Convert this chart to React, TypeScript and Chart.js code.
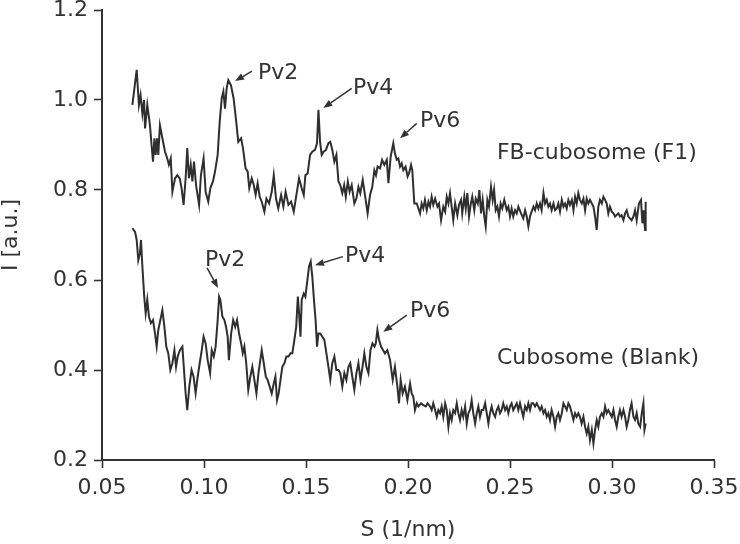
import React, { useEffect, useRef } from "react";
import { Chart, registerables } from "chart.js";

Chart.register(...registerables);

const FONT = "'DejaVu Sans', Verdana, sans-serif";
const INK = "#333333";

// axis ticks
const xTicks = [0.05, 0.1, 0.15, 0.2, 0.25, 0.3, 0.35];
const yTicks = [0.2, 0.4, 0.6, 0.8, 1.0, 1.2];

// FB-cubosome (F1) : S (1/nm) and I (a.u.)
const fbS = [
  0.0649, 0.067, 0.0681, 0.0689, 0.0698, 0.0706, 0.0711, 0.0722, 0.0735, 0.0743,
  0.075, 0.0757, 0.0763, 0.077, 0.0776, 0.0784, 0.0796, 0.0809, 0.082, 0.0828,
  0.0837, 0.0845, 0.0858, 0.0869, 0.0881, 0.089, 0.09, 0.091, 0.0918, 0.0926,
  0.0935, 0.0943, 0.0951, 0.0961, 0.0976, 0.0985, 0.0998, 0.1008, 0.1021, 0.1031,
  0.1044, 0.1054, 0.1067, 0.1077, 0.1087, 0.1095, 0.1103, 0.1111, 0.1119, 0.1132,
  0.1145, 0.1158, 0.1168, 0.1182, 0.1191, 0.1204, 0.1214, 0.1222, 0.1234, 0.1244,
  0.1253, 0.1263, 0.1273, 0.1283, 0.1296, 0.1306, 0.1319, 0.1332, 0.1342, 0.1353,
  0.1364, 0.1378, 0.1389, 0.14, 0.1414, 0.1427, 0.144, 0.1453, 0.1466, 0.1479,
  0.1489, 0.1497, 0.1508, 0.152, 0.1531, 0.1544, 0.1554, 0.1561, 0.1569, 0.1577,
  0.1586, 0.1598, 0.161, 0.1619, 0.1629, 0.1639, 0.1649, 0.1659, 0.1668, 0.1678,
  0.1687, 0.1695, 0.1705, 0.1714, 0.1724, 0.1737, 0.1747, 0.1757, 0.1766, 0.1778,
  0.1789, 0.1802, 0.1814, 0.1825, 0.1835, 0.1843, 0.1851, 0.1863, 0.1873, 0.1884,
  0.1896, 0.1904, 0.1915, 0.1928, 0.1936, 0.1945, 0.1953, 0.1961, 0.1969, 0.1977,
  0.1988, 0.1998, 0.2005, 0.2015, 0.2021, 0.2031, 0.2043, 0.2051, 0.2059, 0.2067,
  0.2075, 0.2083, 0.2092, 0.21, 0.2108, 0.2116, 0.2124, 0.2133, 0.2144, 0.2152,
  0.2162, 0.2173, 0.2182, 0.219, 0.2198, 0.2206, 0.2214, 0.2222, 0.2231, 0.2242,
  0.225, 0.226, 0.2266, 0.2276, 0.2283, 0.2291, 0.2299, 0.2307, 0.2315, 0.2325,
  0.2332, 0.2342, 0.235, 0.2358, 0.2366, 0.2374, 0.2381, 0.2389, 0.2397, 0.2407,
  0.2415, 0.2422, 0.243, 0.2438, 0.2446, 0.2454, 0.2462, 0.2472, 0.2484, 0.2492,
  0.25, 0.2508, 0.2516, 0.2525, 0.2533, 0.2541, 0.2554, 0.2565, 0.2574, 0.2582,
  0.259, 0.2598, 0.2606, 0.2615, 0.2623, 0.2631, 0.2639, 0.2647, 0.2655, 0.2664,
  0.2672, 0.268, 0.2688, 0.2696, 0.2704, 0.2713, 0.2721, 0.2729, 0.2737, 0.2745,
  0.2754, 0.2762, 0.277, 0.2778, 0.2786, 0.2794, 0.2803, 0.2811, 0.2819, 0.2827,
  0.2835, 0.2843, 0.2852, 0.286, 0.2868, 0.2876, 0.2884, 0.2892, 0.2901, 0.2909,
  0.2917, 0.2925, 0.2933, 0.2941, 0.295, 0.2958, 0.2966, 0.2974, 0.2982, 0.299,
  0.2999, 0.3007, 0.3015, 0.3031, 0.3039, 0.3047, 0.3056, 0.3064, 0.3072, 0.308,
  0.3096, 0.3105, 0.3113, 0.3121, 0.3132, 0.3142, 0.3149, 0.3155, 0.3162, 0.3165,
];
const fbI = [
  0.989, 1.067, 0.989, 1.011, 0.97, 1.0, 0.937, 0.989, 0.944, 0.9,
  0.863, 0.915, 0.878, 0.915, 0.878, 0.944, 0.915, 0.885, 0.87, 0.856,
  0.87, 0.796, 0.826, 0.833, 0.826, 0.804, 0.767, 0.826, 0.893, 0.826,
  0.856, 0.819, 0.863, 0.811, 0.767, 0.833, 0.87, 0.796, 0.774, 0.804,
  0.819, 0.841, 0.878, 0.952, 1.004, 1.019, 0.981, 1.026, 1.044, 1.033,
  1.004, 0.952, 0.907, 0.915, 0.893, 0.848, 0.841, 0.804, 0.826, 0.811,
  0.789, 0.815, 0.785, 0.774, 0.752, 0.781, 0.77, 0.796, 0.833, 0.781,
  0.759, 0.789, 0.763, 0.796, 0.767, 0.774, 0.752, 0.789, 0.826, 0.804,
  0.789, 0.833, 0.837, 0.878, 0.885, 0.889, 0.904, 0.978, 0.907, 0.878,
  0.885, 0.889, 0.904, 0.907, 0.889, 0.863, 0.878, 0.819, 0.811, 0.793,
  0.811, 0.785, 0.819, 0.796, 0.811, 0.77, 0.781, 0.807, 0.793, 0.822,
  0.789, 0.748, 0.789, 0.807, 0.844, 0.833, 0.852, 0.848, 0.867, 0.856,
  0.867, 0.815, 0.874, 0.904, 0.881, 0.867, 0.87, 0.852, 0.859, 0.844,
  0.852, 0.83, 0.837, 0.856, 0.844, 0.77, 0.77, 0.759, 0.748, 0.77,
  0.759, 0.778, 0.755, 0.774, 0.763, 0.785, 0.767, 0.781, 0.763, 0.77,
  0.733, 0.763, 0.752, 0.785, 0.77, 0.793, 0.763, 0.733, 0.77, 0.744,
  0.767, 0.778, 0.748, 0.785, 0.759, 0.793, 0.741, 0.767, 0.785, 0.755,
  0.781, 0.77, 0.8, 0.748, 0.778, 0.741, 0.719, 0.778, 0.763, 0.807,
  0.778, 0.8, 0.755, 0.763, 0.741, 0.77, 0.759, 0.778, 0.755, 0.763,
  0.741, 0.759, 0.741, 0.755, 0.748, 0.763, 0.748, 0.737, 0.755, 0.741,
  0.719, 0.741, 0.752, 0.763, 0.755, 0.77, 0.759, 0.77, 0.755, 0.793,
  0.77, 0.778, 0.763, 0.77, 0.755, 0.77, 0.755, 0.759, 0.77, 0.752,
  0.778, 0.763, 0.77, 0.759, 0.778, 0.767, 0.778, 0.755, 0.785, 0.77,
  0.793, 0.778, 0.77, 0.781, 0.755, 0.781, 0.77, 0.778, 0.77, 0.763,
  0.741, 0.711, 0.763, 0.778, 0.77, 0.785, 0.778, 0.77, 0.748, 0.763,
  0.752, 0.748, 0.741, 0.748, 0.741, 0.744, 0.733, 0.748, 0.755, 0.741,
  0.733, 0.741, 0.755, 0.733, 0.77, 0.778, 0.726, 0.755, 0.711, 0.774,
];

// Cubosome (Blank)
const blankS = [
  0.0649, 0.0662, 0.067, 0.0678, 0.0686, 0.0691, 0.0698, 0.0707, 0.0714, 0.0722,
  0.073, 0.074, 0.075, 0.076, 0.0768, 0.0776, 0.0786, 0.0796, 0.0806, 0.0815,
  0.0825, 0.0835, 0.0845, 0.0855, 0.0863, 0.0871, 0.0882, 0.0894, 0.0902, 0.091,
  0.0918, 0.0928, 0.0939, 0.0949, 0.0959, 0.0969, 0.0979, 0.0989, 0.0998, 0.1008,
  0.1018, 0.103, 0.1038, 0.1048, 0.1057, 0.1067, 0.1074, 0.108, 0.109, 0.11,
  0.1108, 0.1116, 0.1122, 0.1133, 0.1143, 0.1153, 0.1162, 0.1172, 0.1182, 0.119,
  0.1198, 0.1207, 0.1217, 0.1227, 0.1237, 0.1247, 0.1257, 0.1267, 0.1276, 0.1283,
  0.1293, 0.1303, 0.1312, 0.1322, 0.1332, 0.1342, 0.135, 0.1358, 0.1366, 0.1375,
  0.1384, 0.1394, 0.1404, 0.1414, 0.1424, 0.1433, 0.1443, 0.1452, 0.146, 0.1466,
  0.1473, 0.1479, 0.1489, 0.1497, 0.1505, 0.1515, 0.1523, 0.1531, 0.1539, 0.1547,
  0.1554, 0.1561, 0.157, 0.158, 0.159, 0.16, 0.161, 0.1619, 0.1629, 0.1639,
  0.1649, 0.1659, 0.1668, 0.1678, 0.1688, 0.1698, 0.1708, 0.1717, 0.1727, 0.1737,
  0.1747, 0.1757, 0.1767, 0.1777, 0.1786, 0.1796, 0.1806, 0.1816, 0.1826, 0.1836,
  0.1842, 0.185, 0.1858, 0.1868, 0.1878, 0.1887, 0.1899, 0.1912, 0.1925, 0.1936,
  0.1948, 0.1956, 0.1964, 0.1974, 0.1985, 0.1997, 0.201, 0.2018, 0.2026, 0.2034,
  0.2043, 0.2051, 0.2064, 0.2075, 0.2087, 0.2096, 0.2108, 0.2116, 0.2124, 0.2133,
  0.2141, 0.2149, 0.2157, 0.2165, 0.2173, 0.2182, 0.219, 0.2198, 0.2206, 0.2214,
  0.2222, 0.2231, 0.2239, 0.2247, 0.2255, 0.2263, 0.2271, 0.228, 0.2288, 0.2296,
  0.2304, 0.2312, 0.232, 0.2329, 0.2337, 0.2345, 0.2353, 0.2361, 0.2369, 0.2378,
  0.2386, 0.2394, 0.2402, 0.241, 0.2418, 0.2427, 0.2435, 0.2443, 0.2451, 0.2459,
  0.2467, 0.2476, 0.2484, 0.2492, 0.25, 0.2508, 0.2516, 0.2525, 0.2533, 0.2541,
  0.2549, 0.2557, 0.2565, 0.2574, 0.2582, 0.259, 0.2598, 0.2606, 0.2614, 0.2623,
  0.2631, 0.2639, 0.2647, 0.2655, 0.2664, 0.2672, 0.268, 0.2688, 0.2696, 0.2704,
  0.2713, 0.2721, 0.2729, 0.2737, 0.2745, 0.2754, 0.2762, 0.277, 0.2778, 0.2786,
  0.2794, 0.2803, 0.2811, 0.2819, 0.2827, 0.2835, 0.2843, 0.2851, 0.286, 0.2868,
  0.2876, 0.2884, 0.2892, 0.2901, 0.2909, 0.2917, 0.2925, 0.2933, 0.2941, 0.295,
  0.2958, 0.2966, 0.2974, 0.2982, 0.299, 0.2999, 0.3007, 0.3015, 0.3023, 0.3031,
  0.3039, 0.3047, 0.3056, 0.3064, 0.3072, 0.308, 0.3088, 0.3096, 0.3105, 0.3113,
  0.3121, 0.3129, 0.3138, 0.3146, 0.3154, 0.3159, 0.3165,
];
const blankI = [
  0.715, 0.707, 0.689, 0.644, 0.659, 0.689, 0.63, 0.563, 0.526, 0.556,
  0.519, 0.504, 0.511, 0.481, 0.452, 0.489, 0.511, 0.533, 0.496, 0.452,
  0.437, 0.4, 0.415, 0.444, 0.407, 0.43, 0.444, 0.452, 0.4, 0.348,
  0.311, 0.363, 0.4, 0.385, 0.348, 0.385, 0.415, 0.444, 0.474, 0.459,
  0.422, 0.393, 0.444, 0.43, 0.452, 0.511, 0.563, 0.556, 0.519, 0.511,
  0.496, 0.474, 0.422, 0.481, 0.511, 0.496, 0.511, 0.481, 0.459, 0.437,
  0.452, 0.415, 0.356, 0.385, 0.407, 0.378, 0.348, 0.393, 0.422, 0.444,
  0.415, 0.385, 0.378, 0.363, 0.348, 0.37, 0.385, 0.333, 0.348, 0.378,
  0.407, 0.415, 0.43, 0.43, 0.437, 0.437, 0.467, 0.496, 0.563, 0.526,
  0.474, 0.556, 0.57, 0.563, 0.593, 0.63, 0.641, 0.607, 0.556, 0.511,
  0.452, 0.481, 0.481, 0.474, 0.467, 0.437, 0.407, 0.378, 0.415, 0.43,
  0.4, 0.4, 0.393, 0.363, 0.393, 0.378, 0.407, 0.415, 0.385, 0.356,
  0.393, 0.415, 0.378, 0.407, 0.437, 0.407, 0.393, 0.444, 0.459, 0.452,
  0.459, 0.489, 0.467, 0.452, 0.444, 0.437, 0.444, 0.422, 0.378, 0.407,
  0.363, 0.326, 0.378, 0.348, 0.363, 0.333, 0.37, 0.348, 0.341, 0.311,
  0.326, 0.319, 0.326, 0.322, 0.319, 0.326, 0.319, 0.311, 0.326, 0.311,
  0.296, 0.311, 0.304, 0.319, 0.296, 0.326, 0.311, 0.274, 0.304, 0.289,
  0.311, 0.304, 0.326, 0.304, 0.289, 0.311, 0.296, 0.319, 0.281, 0.304,
  0.311, 0.333, 0.304, 0.281, 0.304, 0.319, 0.296, 0.311, 0.311, 0.326,
  0.304, 0.281, 0.304, 0.319, 0.304, 0.296, 0.311, 0.319, 0.304, 0.311,
  0.326, 0.311, 0.319, 0.304, 0.319, 0.326, 0.311, 0.319, 0.326, 0.311,
  0.326, 0.311, 0.296, 0.319, 0.311, 0.326, 0.311, 0.326, 0.326, 0.319,
  0.326, 0.319, 0.311, 0.319, 0.304, 0.311, 0.296, 0.304, 0.289, 0.311,
  0.296, 0.274, 0.296, 0.304, 0.289, 0.304, 0.326, 0.319, 0.311, 0.326,
  0.319, 0.304, 0.289, 0.304, 0.296, 0.304, 0.296, 0.281, 0.296, 0.274,
  0.259, 0.274, 0.244, 0.267, 0.237, 0.267, 0.289, 0.274, 0.296, 0.304,
  0.296, 0.319, 0.304, 0.311, 0.304, 0.296, 0.311, 0.289, 0.274, 0.296,
  0.311, 0.296, 0.311, 0.296, 0.274, 0.289, 0.311, 0.326, 0.296, 0.289,
  0.304, 0.281, 0.274, 0.304, 0.326, 0.267, 0.281,
];

// series name labels (data coords of left/middle anchor)
const seriesNames = ["FB-cubosome (F1)", "Cubosome (Blank)"];
const seriesNameS = [0.2436, 0.2436];
const seriesNameI = [0.882, 0.427];

// peak annotations
const peakNames = ["Pv2", "Pv4", "Pv6", "Pv2", "Pv4", "Pv6"];
const peakTextS = [0.1265, 0.173, 0.2059, 0.1005, 0.1691, 0.201];
const peakTextI = [1.06, 1.027, 0.952, 0.644, 0.652, 0.53];
const arrowFromS = [0.1235, 0.1724, 0.2043, 0.1015, 0.1681, 0.1994];
const arrowFromI = [1.064, 1.026, 0.948, 0.627, 0.652, 0.522];
const arrowToS = [0.1152, 0.1585, 0.1961, 0.1069, 0.1544, 0.1879];
const arrowToI = [1.042, 0.982, 0.915, 0.582, 0.633, 0.485];

const xTitle = "S (1/nm)";
const yTitle = "I [a.u.]";

const annotate = {
  id: "annotate",
  afterDatasetsDraw(chart: any) {
    const { ctx, chartArea } = chart;
    const xs = chart.scales.x;
    const ys = chart.scales.y;
    ctx.save();
    ctx.fillStyle = INK;
    ctx.strokeStyle = INK;
    ctx.font = `22px ${FONT}`;
    ctx.textBaseline = "middle";
    ctx.textAlign = "left";
    peakNames.forEach((name, i) => {
      ctx.fillText(name, xs.getPixelForValue(peakTextS[i]), ys.getPixelForValue(peakTextI[i]));
      const x1 = xs.getPixelForValue(arrowFromS[i]);
      const y1 = ys.getPixelForValue(arrowFromI[i]);
      const x2 = xs.getPixelForValue(arrowToS[i]);
      const y2 = ys.getPixelForValue(arrowToI[i]);
      const ang = Math.atan2(y2 - y1, x2 - x1);
      const hl = 9;
      const hw = 3.5;
      const bx = x2 - hl * Math.cos(ang);
      const by = y2 - hl * Math.sin(ang);
      ctx.lineWidth = 1.5;
      ctx.beginPath();
      ctx.moveTo(x1, y1);
      ctx.lineTo(bx, by);
      ctx.stroke();
      ctx.beginPath();
      ctx.moveTo(x2, y2);
      ctx.lineTo(bx + hw * Math.sin(ang), by - hw * Math.cos(ang));
      ctx.lineTo(bx - hw * Math.sin(ang), by + hw * Math.cos(ang));
      ctx.closePath();
      ctx.fill();
    });
    seriesNames.forEach((name, i) => {
      ctx.fillText(name, xs.getPixelForValue(seriesNameS[i]), ys.getPixelForValue(seriesNameI[i]));
    });
    ctx.textAlign = "center";
    ctx.fillText(xTitle, (chartArea.left + chartArea.right) / 2, 530);
    ctx.translate(11, (chartArea.top + chartArea.bottom) / 2);
    ctx.rotate(-Math.PI / 2);
    ctx.fillText(yTitle, 0, 0);
    ctx.restore();
  },
};

export default function App() {
  const ref = useRef<HTMLCanvasElement | null>(null);
  useEffect(() => {
    if (!ref.current) return;
    const chart = new Chart(ref.current, {
      type: "line",
      data: {
        datasets: [
          {
            label: seriesNames[0],
            data: fbS.map((s, i) => ({ x: s, y: fbI[i] })),
            borderColor: "#2f2f2f",
            borderWidth: 2,
            pointRadius: 0,
            tension: 0,
            fill: false,
          },
          {
            label: seriesNames[1],
            data: blankS.map((s, i) => ({ x: s, y: blankI[i] })),
            borderColor: "#2f2f2f",
            borderWidth: 2,
            pointRadius: 0,
            tension: 0,
            fill: false,
          },
        ],
      },
      options: {
        animation: false,
        responsive: false,
        devicePixelRatio: 1,
        layout: { padding: { left: 0, right: 26, top: 10, bottom: 0 } },
        plugins: { legend: { display: false }, tooltip: { enabled: false } },
        scales: {
          x: {
            type: "linear",
            min: 0.05,
            max: 0.35,
            afterBuildTicks: (scale: any) => {
              scale.ticks = xTicks.map((v) => ({ value: v }));
            },
            afterFit: (scale: any) => {
              scale.height = 84;
              scale.paddingLeft = 0;
              scale.paddingRight = 0;
            },
            ticks: {
              color: INK,
              font: { family: FONT, size: 22 },
              padding: 7,
              maxRotation: 0,
              callback: (v: any) => Number(v).toFixed(2),
            },
            grid: {
              drawOnChartArea: false,
              drawTicks: true,
              tickLength: 8,
              tickWidth: 1.6,
              tickColor: INK,
            },
            border: { display: true, color: INK, width: 2 },
          },
          y: {
            type: "linear",
            min: 0.2,
            max: 1.2,
            afterBuildTicks: (scale: any) => {
              scale.ticks = yTicks.map((v) => ({ value: v }));
            },
            afterFit: (scale: any) => {
              scale.width = 102;
              scale.paddingTop = 0;
              scale.paddingBottom = 0;
            },
            ticks: {
              color: INK,
              font: { family: FONT, size: 22 },
              padding: 6,
              callback: (v: any) => Number(v).toFixed(1),
            },
            grid: {
              drawOnChartArea: false,
              drawTicks: true,
              tickLength: 8,
              tickWidth: 1.6,
              tickColor: INK,
            },
            border: { display: true, color: INK, width: 2 },
          },
        },
      },
      plugins: [annotate],
    } as any);
    return () => chart.destroy();
  }, []);
  return (
    <div style={{ position: "absolute", left: 0, top: 0, width: 740, height: 544, background: "#fff" }}>
      <canvas ref={ref} width={740} height={544} style={{ display: "block" }} />
    </div>
  );
}
